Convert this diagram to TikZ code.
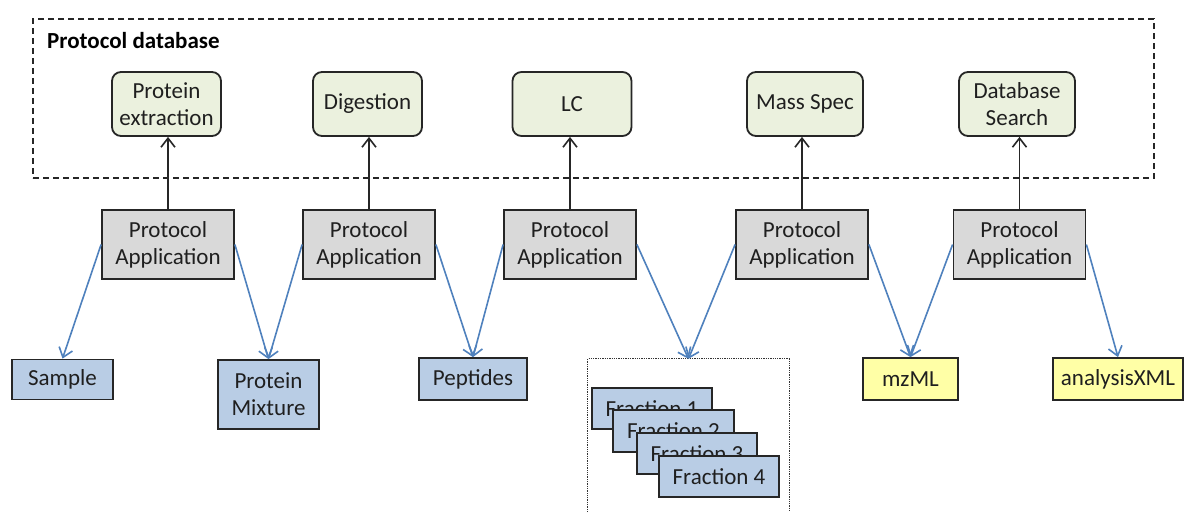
\documentclass[tikz,border=0pt]{standalone}
\usepackage{fontspec}
\setmainfont{Carlito}
\usetikzlibrary{arrows.meta}
\definecolor{boxgreen}{HTML}{EBF1DE}
\definecolor{boxgray}{HTML}{D9D9D9}
\definecolor{boxblue}{HTML}{B9CDE5}
\definecolor{boxyellow}{HTML}{FFFFA6}
\definecolor{arrblue}{HTML}{4F81BD}
\definecolor{txt}{HTML}{1F1F1F}
\begin{document}
\begin{tikzpicture}[x=1pt,y=-1pt,
  base/.style={inner sep=0pt, align=center, text=txt, font=\fontsize{23}{27}\selectfont, line width=1.8pt, draw=black!85},
  protbox/.style={base, fill=boxgreen, rounded corners=9pt, minimum height=64pt},
  appbox/.style={base, fill=boxgray, minimum width=132pt, minimum height=69pt},
  matbox/.style={base, fill=boxblue},
  filebox/.style={base, fill=boxyellow},
  uparrow/.style={draw=black!85, line width=1.6pt, -{Straight Barb[length=9pt,width=14pt,line width=1.6pt]}},
  bluearrow/.style={draw=arrblue, line width=1.6pt, -{Straight Barb[length=9pt,width=14pt,line width=1.6pt]}}
]
\useasboundingbox (0,0) rectangle (1184,512);
\fill[white] (0,0) rectangle (1184,512);

% Protocol database
\node[draw=black!85, dash pattern=on 6pt off 4pt, line width=1.7pt, minimum width=1121pt, minimum height=159pt, inner sep=0pt] (db) at (593.5,98.5) {};
\node[anchor=west, inner sep=0pt, text=black, font=\fontsize{23}{27}\selectfont\bfseries] (dbt) at (47,41) {Protocol database};

% Protocols
\node[protbox, minimum width=109pt] (p1) at (166.5,104) {Protein\\extraction};
\node[protbox, minimum width=109pt] (p2) at (367.5,104) {Digestion};
\node[protbox, minimum width=119pt] (p3) at (572,104) {LC};
\node[protbox, minimum width=116pt] (p4) at (805,104) {Mass Spec};
\node[protbox, minimum width=116pt] (p5) at (1017,104) {Database\\Search};

% Protocol applications
\node[appbox] (a1) at (168,244.5) {Protocol\\Application};
\node[appbox] (a2) at (369,244.5) {Protocol\\Application};
\node[appbox] (a3) at (570,244.5) {Protocol\\Application};
\node[appbox] (a4) at (802,244.5) {Protocol\\Application};
\node[appbox] (a5) at (1019.5,244.5) {Protocol\\Application};

\foreach \i in {1,...,5}{
  \draw[uparrow] (a\i.north) -- (a\i.north |- p\i.south);
}

% Materials and files
\node[matbox, minimum width=101pt, minimum height=40pt] (s) at (62.5,379.5) {Sample};
\node[matbox, minimum width=101pt, minimum height=69pt] (pm) at (268.5,394.5) {Protein\\Mixture};
\node[matbox, minimum width=108pt, minimum height=42pt] (pep) at (473,379) {Peptides};
\node[filebox, minimum width=95pt, minimum height=42pt] (mz) at (910.5,379) {mzML};
\node[filebox, minimum width=130pt, minimum height=42pt] (ax) at (1118,379) {analysisXML};

% Fractions
\node[minimum width=201pt, minimum height=153pt, inner sep=0pt] (fr) at (688.5,435.5) {};
\draw[densely dotted, line width=1.3pt, black!80] (fr.south west) -- (fr.north west) -- (fr.north east) -- (fr.south east);
\node[matbox, minimum width=120pt, minimum height=41pt] (f1) at (652,408.5) {Fraction 1};
\node[matbox, minimum width=121pt, minimum height=42pt] (f2) at (673.5,431) {Fraction 2};
\node[matbox, minimum width=120pt, minimum height=41pt] (f3) at (697,453.5) {Fraction 3};
\node[matbox, minimum width=120pt, minimum height=41pt] (f4) at (719,476.5) {Fraction 4};

% Blue arrows
\draw[bluearrow] (a1.west) -- (s.north);
\draw[bluearrow] (a1.east) -- (pm.north);
\draw[bluearrow] (a2.west) -- (pm.north);
\draw[bluearrow] (a2.east) -- (pep.north);
\draw[bluearrow] (a3.west) -- (pep.north);
\draw[bluearrow] (a3.east) -- (fr.north);
\draw[bluearrow] (a4.west) -- (fr.north);
\draw[bluearrow] (a4.east) -- (mz.north);
\draw[bluearrow] (a5.west) -- (mz.north);
\draw[bluearrow] (a5.east) -- (ax.north);
\end{tikzpicture}
\end{document}
